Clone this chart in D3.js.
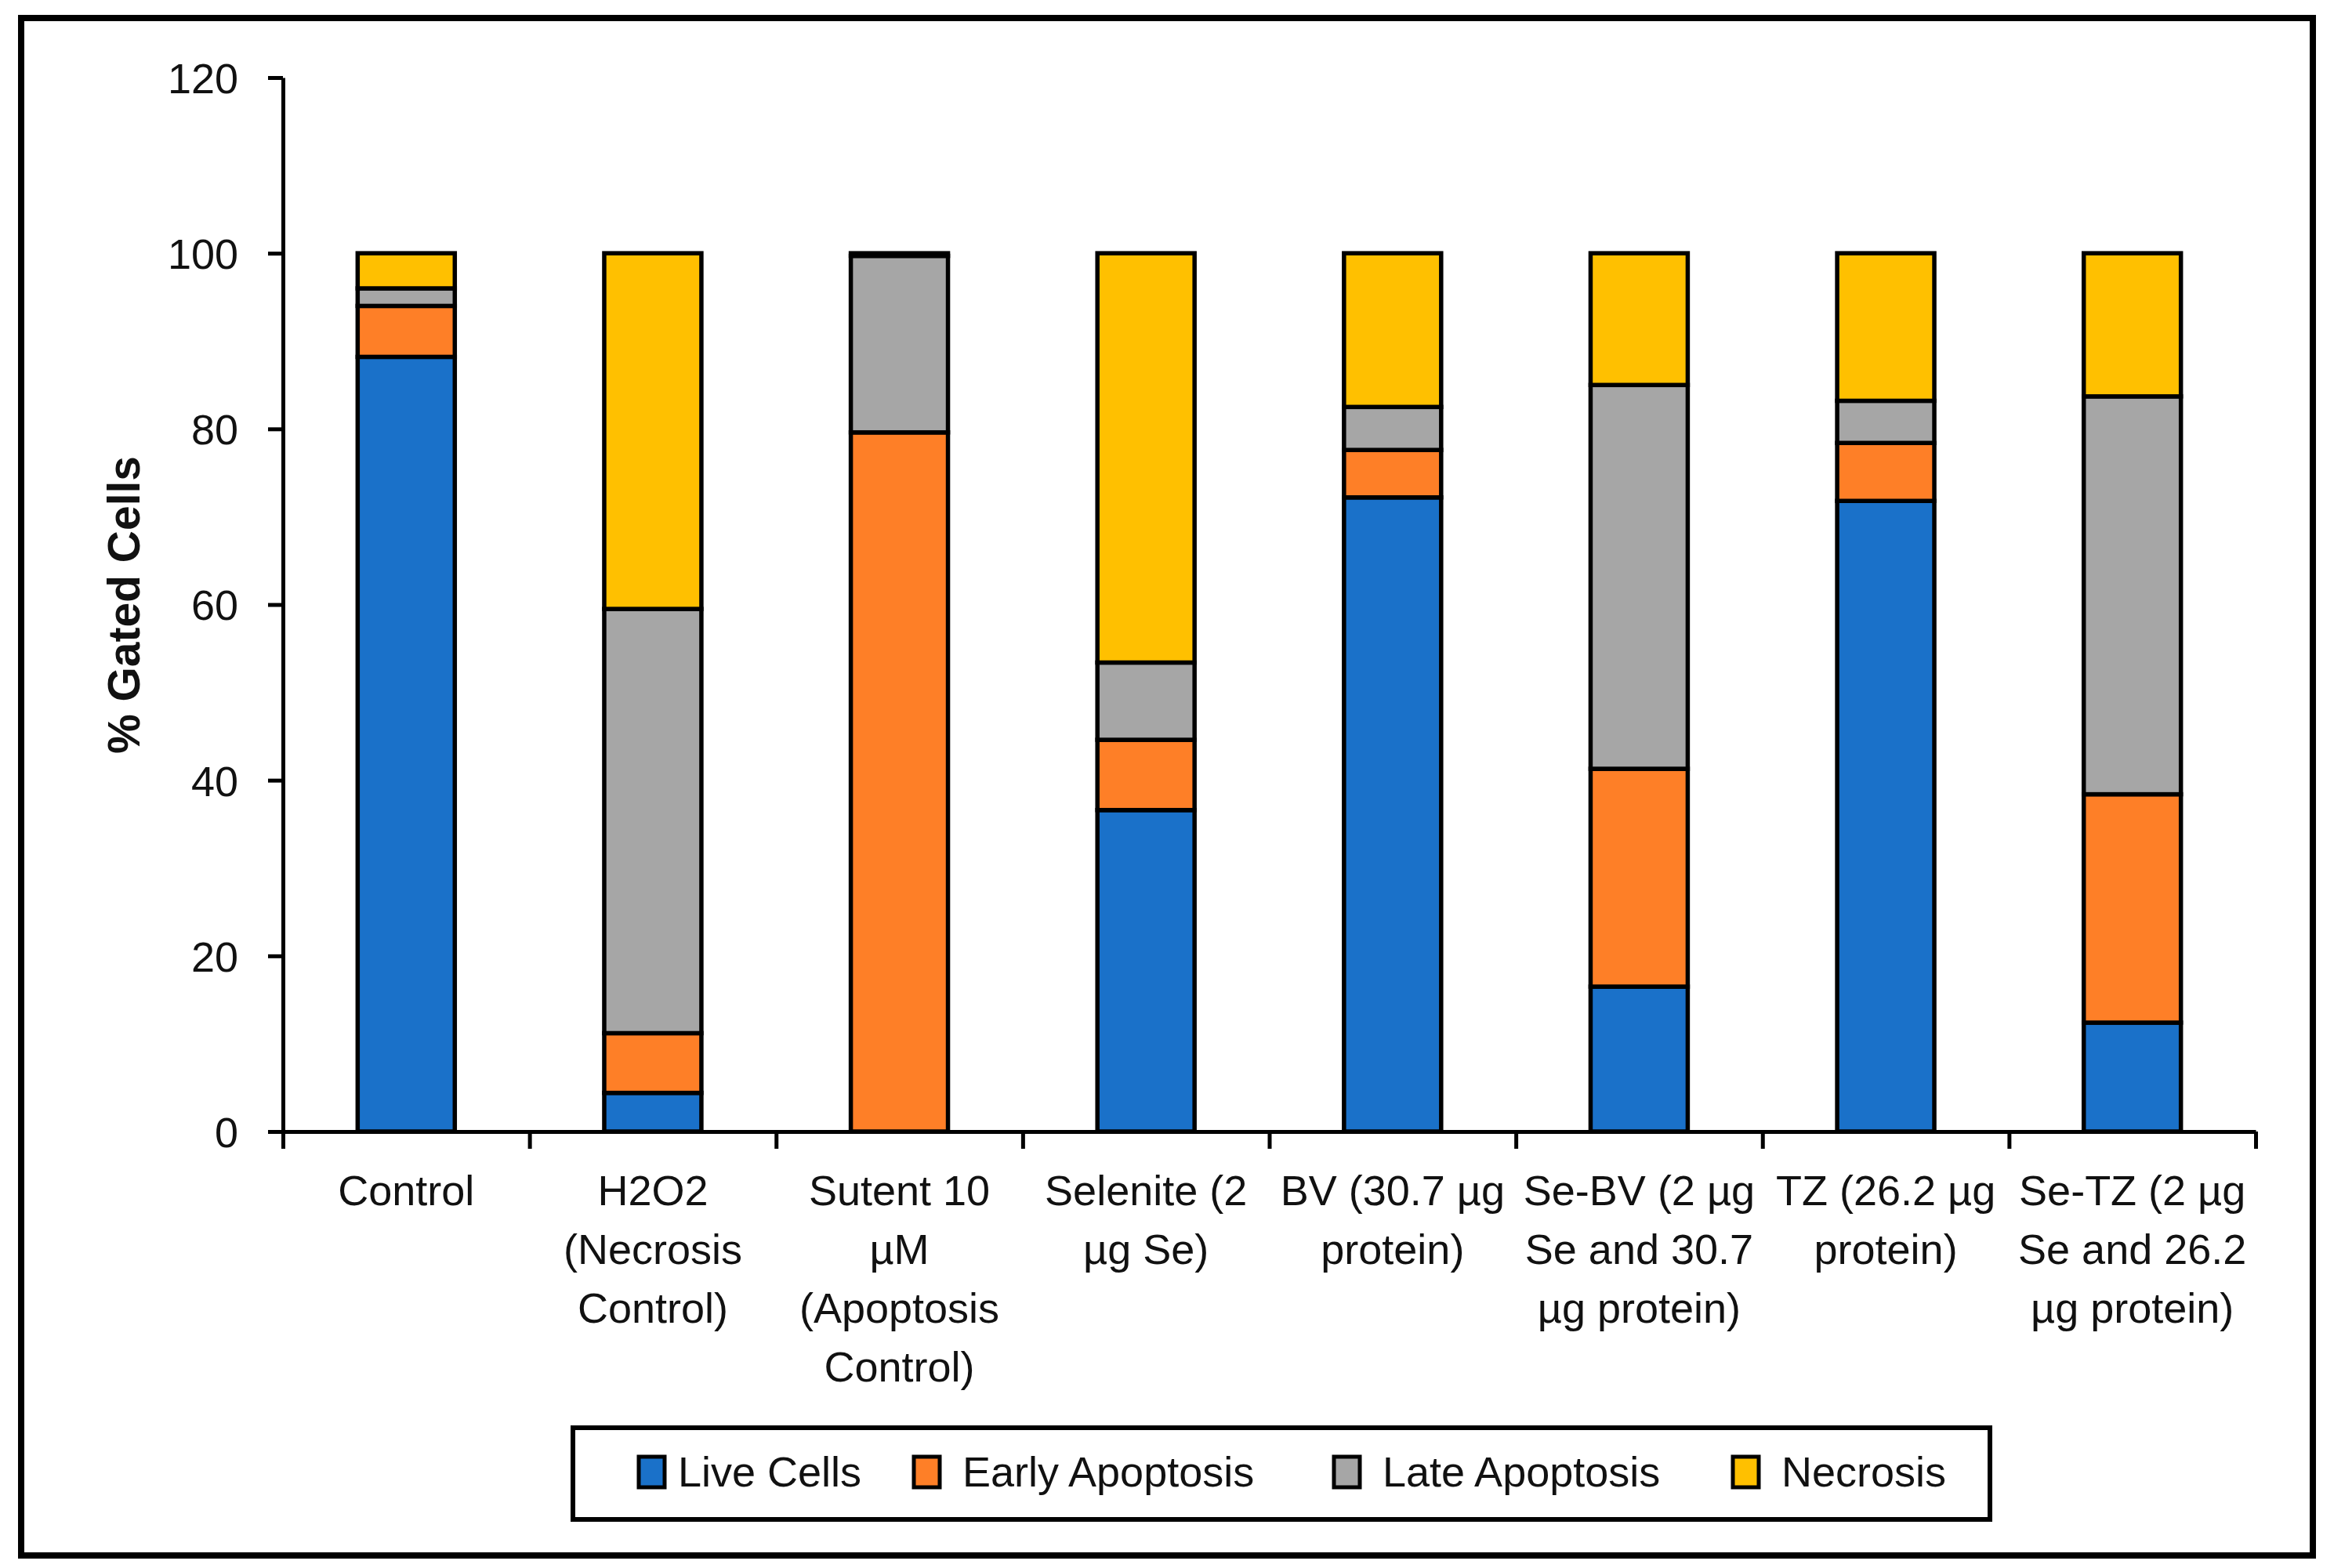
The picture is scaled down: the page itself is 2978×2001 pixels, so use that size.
<!DOCTYPE html>
<html>
<head>
<meta charset="utf-8">
<script src="https://cdn.jsdelivr.net/npm/d3@7"></script>
<style>
  html, body { margin: 0; padding: 0; background: #fff; }
  svg { display: block; }
</style>
</head>
<body>
<svg id="chart" width="2978" height="2001"></svg>
<script>
// ---------------- data ----------------
const categories = ["Control", "H2O2", "Sutent", "Selenite", "BV", "Se-BV", "TZ", "Se-TZ"];
const categoryLabels = [
  ["Control"],
  ["H2O2", "(Necrosis", "Control)"],
  ["Sutent 10", "\u00b5M", "(Apoptosis", "Control)"],
  ["Selenite (2", "\u00b5g Se)"],
  ["BV (30.7 \u00b5g", "protein)"],
  ["Se-BV (2 \u00b5g", "Se and 30.7", "\u00b5g protein)"],
  ["TZ (26.2 \u00b5g", "protein)"],
  ["Se-TZ (2 \u00b5g", "Se and 26.2", "\u00b5g protein)"]
];
const liveCells      = [88.2,  4.4,  0.0, 36.6, 72.2, 16.5, 71.8, 12.4];
const earlyApoptosis = [ 5.8,  6.8, 79.6,  8.0,  5.4, 24.8,  6.6, 26.0];
const lateApoptosis  = [ 2.0, 48.3, 20.1,  8.8,  4.9, 43.7,  4.8, 45.3];
const necrosis       = [ 4.0, 40.5,  0.3, 46.6, 17.5, 15.0, 16.8, 16.3];
const seriesNames = ["Live Cells", "Early Apoptosis", "Late Apoptosis", "Necrosis"];
const seriesColors = ["#1a71c9", "#fe7f27", "#a6a6a6", "#ffc000"];
const yTicks = [0, 20, 40, 60, 80, 100, 120];
const yTitle = "% Gated Cells";

// ---------------- layout ----------------
const svg = d3.select("#chart");
const FONT = "'Liberation Sans', Arial, sans-serif";
const plot = { left: 361, right: 2878, top: 99, bottom: 1444 };
const legendSwatchX = [815, 1166, 1702, 2211];

// outer frame
svg.append("rect")
  .attr("x", 27).attr("y", 23).attr("width", 2924).attr("height", 1962)
  .attr("fill", "#fff").attr("stroke", "#000").attr("stroke-width", 8);

const x = d3.scaleBand()
  .domain(categories)
  .range([plot.left, plot.right])
  .paddingInner(0.606)
  .paddingOuter(0.303);
const xBound = d3.scaleLinear().domain([0, categories.length]).range([plot.left, plot.right]);
const y = d3.scaleLinear().domain([0, 120]).range([plot.bottom, plot.top]);

// stacked data
const table = categories.map((c, i) => ({
  cat: c,
  "Live Cells": liveCells[i],
  "Early Apoptosis": earlyApoptosis[i],
  "Late Apoptosis": lateApoptosis[i],
  "Necrosis": necrosis[i]
}));
const stacked = d3.stack().keys(seriesNames)(table);
const color = d3.scaleOrdinal().domain(seriesNames).range(seriesColors);

const barsG = svg.append("g");
stacked.forEach(layer => {
  barsG.append("g")
    .selectAll("rect")
    .data(layer)
    .join("rect")
    .attr("x", d => x(d.data.cat))
    .attr("width", x.bandwidth())
    .attr("y", d => y(d[1]))
    .attr("height", d => Math.max(0, y(d[0]) - y(d[1])))
    .attr("fill", color(layer.key))
    .attr("stroke", "#000")
    .attr("stroke-width", 5.5)
    .attr("stroke-linejoin", "miter");
});

// y axis
const yAxis = svg.append("g")
  .attr("transform", `translate(${plot.left},0)`)
  .call(d3.axisLeft(y).tickValues(yTicks).tickSize(19).tickSizeOuter(0).tickPadding(38));
yAxis.select(".domain").attr("stroke", "#000").attr("stroke-width", 5);
yAxis.selectAll(".tick line").attr("stroke", "#000").attr("stroke-width", 5);
yAxis.selectAll(".tick text")
  .attr("font-family", FONT).attr("font-size", 54).attr("fill", "#111")
  .attr("dy", "0.36em");

// x axis (boundary ticks)
const xAxis = svg.append("g")
  .attr("transform", `translate(0,${plot.bottom})`)
  .call(d3.axisBottom(xBound).tickValues(d3.range(categories.length + 1)).tickFormat("").tickSize(22).tickSizeOuter(0));
xAxis.select(".domain").attr("stroke", "#000").attr("stroke-width", 5);
xAxis.selectAll(".tick line").attr("stroke", "#000").attr("stroke-width", 5);

// category labels
const labG = svg.append("g");
categories.forEach((c, i) => {
  const cx = x(c) + x.bandwidth() / 2;
  const t = labG.append("text")
    .attr("x", cx)
    .attr("y", 1538)
    .attr("text-anchor", "middle")
    .attr("font-family", FONT).attr("font-size", 54).attr("fill", "#111");
  categoryLabels[i].forEach((line, j) => {
    t.append("tspan")
      .attr("x", cx)
      .attr("dy", j === 0 ? 0 : 75)
      .text(line);
  });
});

// y title
svg.append("text")
  .attr("transform", "translate(158,772) rotate(-90)")
  .attr("text-anchor", "middle")
  .attr("dominant-baseline", "central")
  .attr("font-family", FONT).attr("font-size", 57).attr("font-weight", "bold")
  .attr("fill", "#111")
  .text(yTitle);

// legend
svg.append("rect")
  .attr("x", 731).attr("y", 1822).attr("width", 1808).attr("height", 117)
  .attr("fill", "#fff").attr("stroke", "#000").attr("stroke-width", 6);
seriesNames.forEach((name, i) => {
  const sx = legendSwatchX[i];
  svg.append("rect")
    .attr("x", sx).attr("y", 1859).attr("width", 33).attr("height", 39)
    .attr("fill", seriesColors[i]).attr("stroke", "#000").attr("stroke-width", 5);
  svg.append("text")
    .attr("x", sx + (i === 0 ? 50 : 62)).attr("y", 1897)
    .attr("font-family", FONT).attr("font-size", 54).attr("fill", "#111")
    .text(name);
});
</script>
</body>
</html>
